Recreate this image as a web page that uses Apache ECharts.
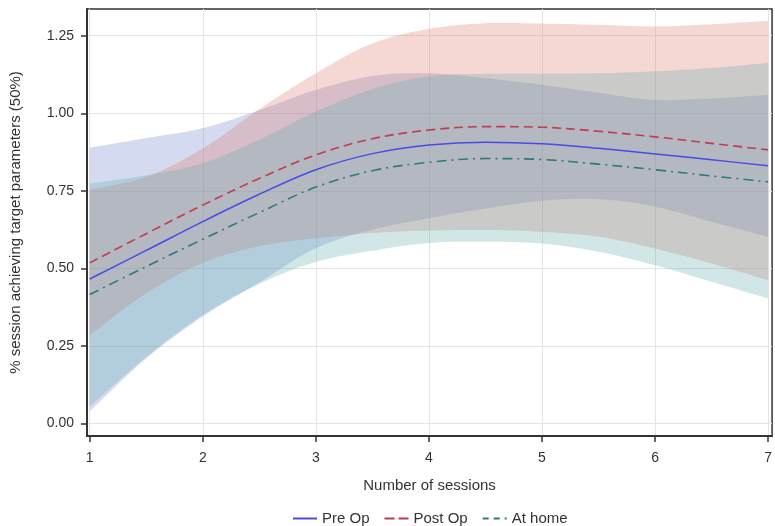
<!DOCTYPE html>
<html>
<head>
<meta charset="utf-8">
<script src="https://cdn.jsdelivr.net/npm/echarts@6/dist/echarts.min.js"></script>
<style>
  html, body { margin: 0; padding: 0; background: #fff; }
  #chart { width: 775px; height: 526px; }
</style>
</head>
<body>
<div id="chart"></div>
<script>
// ---- data ----
const sessions = [1, 1.5, 2, 2.5, 3, 3.5, 4, 4.5, 5, 5.5, 6, 6.5, 7];

const preOp      = [0.466, 0.558, 0.651, 0.739, 0.818, 0.870, 0.898, 0.907, 0.902, 0.887, 0.869, 0.850, 0.831];
const postOp     = [0.518, 0.612, 0.704, 0.790, 0.866, 0.918, 0.946, 0.957, 0.955, 0.942, 0.924, 0.903, 0.882];
const atHome     = [0.416, 0.506, 0.594, 0.680, 0.762, 0.815, 0.842, 0.854, 0.851, 0.836, 0.818, 0.798, 0.779];

const preOpLow   = [0.040, 0.210, 0.345, 0.455, 0.565, 0.625, 0.662, 0.693, 0.718, 0.723, 0.699, 0.650, 0.602];
const preOpHigh  = [0.889, 0.920, 0.952, 1.010, 1.075, 1.120, 1.129, 1.113, 1.092, 1.066, 1.043, 1.048, 1.059];
const postOpLow  = [0.285, 0.420, 0.518, 0.572, 0.597, 0.614, 0.622, 0.624, 0.618, 0.602, 0.564, 0.516, 0.462];
const postOpHigh = [0.753, 0.795, 0.887, 1.013, 1.129, 1.225, 1.272, 1.290, 1.289, 1.285, 1.280, 1.287, 1.298];
const atHomeLow  = [0.055, 0.215, 0.350, 0.450, 0.521, 0.557, 0.582, 0.586, 0.580, 0.554, 0.510, 0.457, 0.403];
const atHomeHigh = [0.774, 0.800, 0.839, 0.915, 1.005, 1.078, 1.119, 1.127, 1.127, 1.129, 1.135, 1.146, 1.162];

const xTicks = [1, 2, 3, 4, 5, 6, 7];
const yTicks = [0, 0.25, 0.5, 0.75, 1.0, 1.25];

const seriesNames = ['Pre Op', 'Post Op', 'At home'];
// ---------------------------------------

const SMOOTH = 0.35;
const pairs = (ys) => sessions.map((x, i) => [x, ys[i]]);

// ECharts-like smoothing of a pixel polyline, sampled into points for a polygon
function smoothSample(pts, s, steps) {
  const n = pts.length;
  const cps = [];
  for (let i = 0; i < n; i++) {
    const p = pts[i];
    const prev = i > 0 ? pts[i - 1] : p;
    const next = i < n - 1 ? pts[i + 1] : p;
    const vx = next[0] - prev[0], vy = next[1] - prev[1];
    const d0 = Math.hypot(p[0] - prev[0], p[1] - prev[1]);
    const d1 = Math.hypot(next[0] - p[0], next[1] - p[1]);
    const sum = d0 + d1 || 1;
    cps.push({
      before: [p[0] - vx * s * d0 / sum, p[1] - vy * s * d0 / sum],
      after:  [p[0] + vx * s * d1 / sum, p[1] + vy * s * d1 / sum]
    });
  }
  const out = [pts[0].slice()];
  for (let i = 0; i < n - 1; i++) {
    const p0 = pts[i], c1 = cps[i].after, c2 = cps[i + 1].before, p1 = pts[i + 1];
    for (let k = 1; k <= steps; k++) {
      const t = k / steps, u = 1 - t;
      const a = u * u * u, b = 3 * u * u * t, c = 3 * u * t * t, d = t * t * t;
      out.push([a * p0[0] + b * c1[0] + c * c2[0] + d * p1[0],
                a * p0[1] + b * c1[1] + c * c2[1] + d * p1[1]]);
    }
  }
  return out;
}

const FONT = 'Liberation Sans, Arial, sans-serif';
const TXT = '#333333';

const bands = [
  { name: 'Pre Op CI',  lo: preOpLow,  hi: preOpHigh,  fill: 'rgba(108,132,205,0.29)' },
  { name: 'Post Op CI', lo: postOpLow, hi: postOpHigh, fill: 'rgba(222,118,105,0.29)' },
  { name: 'At home CI', lo: atHomeLow, hi: atHomeHigh, fill: 'rgba(98,172,172,0.29)' }
];

const series = [];
bands.forEach((b, k) => {
  series.push({
    name: b.name, type: 'custom', silent: true, z: 2 + k, clip: true,
    data: [[sessions[0], b.lo[0]]],
    encode: { x: 0, y: 1 },
    renderItem: function (params, api) {
      const up = sessions.map((x, i) => api.coord([x, b.hi[i]]));
      const lo = sessions.map((x, i) => api.coord([x, b.lo[i]])).reverse();
      const pts = smoothSample(up, SMOOTH, 16).concat(smoothSample(lo, SMOOTH, 16));
      return { type: 'polygon', shape: { points: pts }, style: { fill: b.fill, stroke: null } };
    }
  });
});

series.push({
  name: seriesNames[0], type: 'line', data: pairs(preOp), smooth: SMOOTH, symbol: 'none', z: 10,
  lineStyle: { color: '#4a4ae6', width: 1.5, type: 'solid' }, itemStyle: { color: '#4a4ae6' }
});
series.push({
  name: seriesNames[1], type: 'line', data: pairs(postOp), smooth: SMOOTH, symbol: 'none', z: 10,
  lineStyle: { color: '#c23b4e', width: 1.6, type: [9, 5] }, itemStyle: { color: '#c23b4e' }
});
series.push({
  name: seriesNames[2], type: 'line', data: pairs(atHome), smooth: SMOOTH, symbol: 'none', z: 10,
  lineStyle: { color: '#2b7e6e', width: 1.6, type: [10, 5, 2, 5] }, itemStyle: { color: '#2b7e6e' }
});

const chart = echarts.init(document.getElementById('chart'), null, { renderer: 'canvas' });
chart.setOption({
  animation: false,
  backgroundColor: '#ffffff',
  textStyle: { fontFamily: FONT },
  grid: {
    left: 86, right: 1, top: 9, bottom: 90,
    show: true, borderColor: '#333333', borderWidth: 1.5, backgroundColor: 'transparent'
  },
  legend: {
    data: [
      { name: seriesNames[0], icon: 'path://M0,0H24V2H0Z', itemStyle: { color: '#4a4ae6' } },
      { name: seriesNames[1], icon: 'path://M0,0H10V2H0Z M14,0H24V2H14Z', itemStyle: { color: '#c23b4e' } },
      { name: seriesNames[2], icon: 'path://M0,0H6V2H0Z M11,0H17V2H11Z M22,0H24V2H22Z', itemStyle: { color: '#2b7e6e' } }
    ],
    left: 288, top: 506,
    itemWidth: 24, itemHeight: 2, itemGap: 15,
    textStyle: { fontFamily: FONT, fontSize: 15, color: TXT }
  },
  xAxis: {
    type: 'value', min: 0.976, max: 7.035,
    name: 'Number of sessions', nameLocation: 'middle', nameGap: 42,
    nameTextStyle: { fontFamily: FONT, fontSize: 15, color: TXT },
    axisLine: { show: true, onZero: false, lineStyle: { color: '#333333', width: 2 } },
    axisTick: { show: true, customValues: xTicks, length: 6, lineStyle: { color: '#333333', width: 1.5 } },
    axisLabel: { customValues: xTicks, fontSize: 14, color: TXT, margin: 15, fontFamily: FONT },
    splitLine: { show: true, lineStyle: { color: '#e4e4e4', width: 1 } }
  },
  yAxis: {
    type: 'value', min: -0.04, max: 1.336,
    name: '% session achieving target parameters (50%)', nameLocation: 'middle', nameGap: 64, nameRotate: 90,
    nameTextStyle: { fontFamily: FONT, fontSize: 15, color: TXT },
    axisLine: { show: true, onZero: false, lineStyle: { color: '#333333', width: 2 } },
    axisTick: { show: true, customValues: yTicks, length: 6, lineStyle: { color: '#333333', width: 1.5 } },
    axisLabel: { customValues: yTicks, fontSize: 14, color: TXT, margin: 13, fontFamily: FONT,
                 formatter: (v) => Number(v).toFixed(2) },
    splitLine: { show: true, lineStyle: { color: '#e4e4e4', width: 1 } }
  },
  series: series
});
</script>
</body>
</html>
